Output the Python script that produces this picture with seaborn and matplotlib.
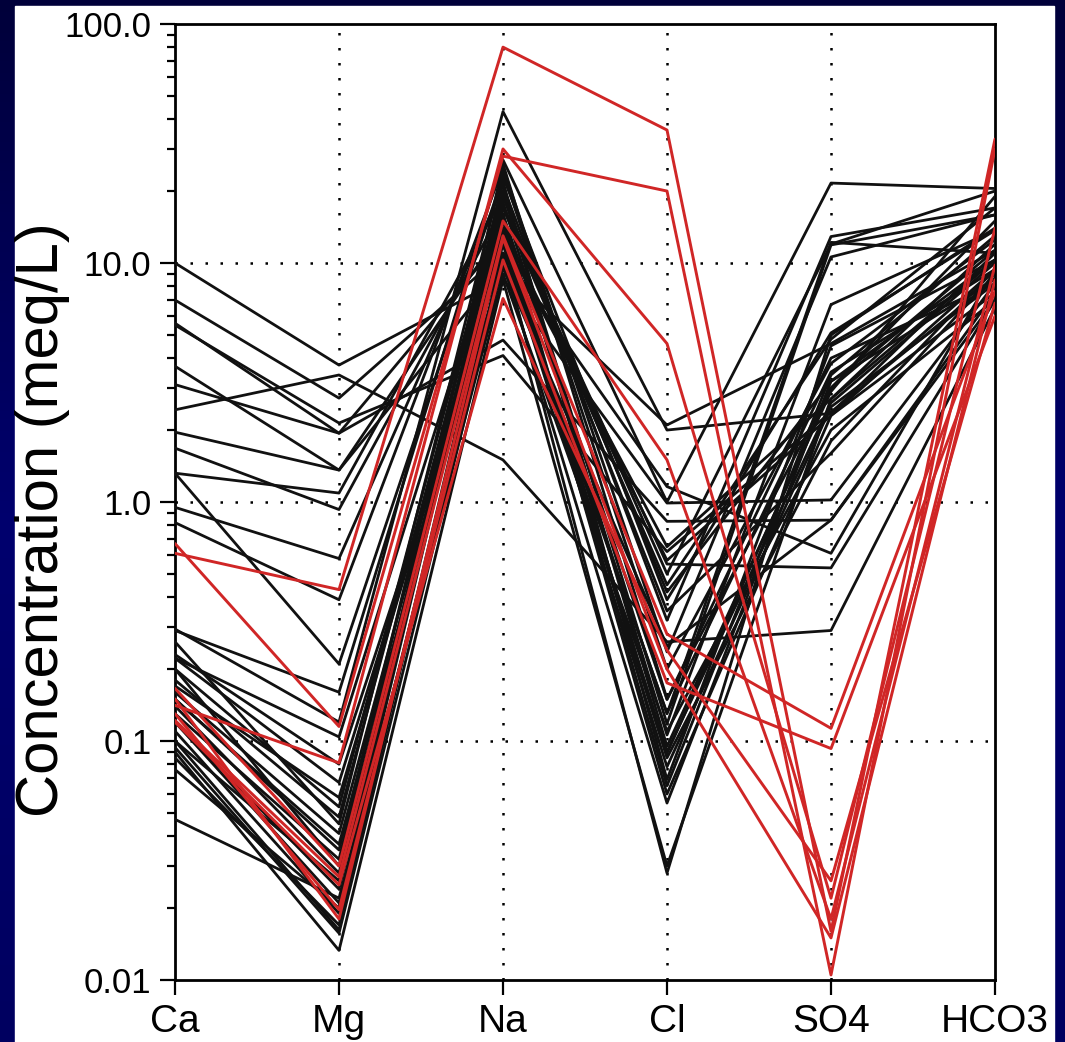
import numpy as np
import pandas as pd
import matplotlib
matplotlib.use("Agg")
import matplotlib.pyplot as plt
import seaborn as sns
from matplotlib.patches import Rectangle
from matplotlib.colors import LinearSegmentedColormap
from matplotlib.ticker import LogLocator, NullFormatter

ions = ["Ca", "Mg", "Na", "Cl", "SO4", "HCO3"]

# black samples (meq/L)
ca_black = [10.0, 7.0, 5.6, 5.5, 3.7, 3.1, 2.43, 1.96, 1.68, 1.32, 1.32, 0.95, 0.82,
            0.29, 0.294, 0.222, 0.222, 0.2, 0.18, 0.16, 0.149, 0.13, 0.12, 0.1, 0.094,
            0.09, 0.076, 0.047, 0.2, 0.26, 0.14, 0.11, 0.085, 0.17, 0.23, 0.15, 0.12, 0.1]
mg_black = [3.74, 2.72, 1.94, 2.14, 1.36, 1.94, 3.4, 1.36, 0.93, 1.09, 0.21, 0.58, 0.39,
            0.16, 0.12, 0.104, 0.067, 0.053, 0.048, 0.041, 0.037, 0.032, 0.024, 0.0162, 0.0157,
            0.0133, 0.02, 0.022, 0.03, 0.045, 0.028, 0.019, 0.017, 0.058, 0.08, 0.035, 0.021, 0.026]
na_black = [8.6, 11.0, 4.76, 4.1, 9.6, 12.8, 1.5, 14.0, 17.0, 19.0, 23.0, 21.0, 25.0,
            27.0, 43.0, 16.0, 11.0, 20.0, 18.0, 14.0, 12.0, 22.0, 15.0, 13.0, 10.0,
            8.5, 11.0, 9.0, 17.0, 24.0, 19.0, 26.0, 13.5, 12.0, 9.5, 20.0, 16.0, 17.5]
cl_black = [0.99, 1.16, 0.83, 0.62, 2.1, 0.65, 0.26, 0.57, 0.55, 0.42, 0.39, 0.32, 0.236,
            1.0, 2.0, 0.149, 0.131, 0.118, 0.106, 0.089, 0.078, 0.069, 0.06, 0.085, 0.055,
            0.03, 0.028, 0.11, 0.45, 0.2, 0.35, 0.15, 0.09, 0.13, 0.25, 0.095, 0.065, 0.5]
so4_black = [1.02, 0.61, 0.84, 2.38, 4.6, 2.7, 0.29, 2.3, 0.53, 3.2, 5.1, 12.9, 10.6,
             21.6, 2.35, 4.0, 3.5, 11.9, 6.7, 3.0, 2.5, 4.5, 2.3, 1.8, 3.2,
             2.7, 5.0, 2.0, 4.8, 3.8, 1.6, 3.0, 2.6, 12.2, 0.84, 2.9, 3.4, 12.0]
hco3_black = [8.2, 9.4, 7.5, 8.6, 11.3, 10.3, 6.5, 9.4, 7.0, 10.3, 13.7, 17.0, 15.9,
              20.5, 11.0, 8.2, 9.4, 15.9, 13.7, 11.3, 8.2, 10.3, 7.5, 9.4, 8.6,
              12.0, 14.0, 7.0, 17.0, 12.5, 9.0, 15.0, 10.0, 11.0, 7.0, 19.0, 13.0, 20.0]

# red samples (meq/L)
ca_red = [0.61, 0.67, 0.141, 0.166, 0.122, 0.13, 0.15, 0.12]
mg_red = [0.43, 0.115, 0.081, 0.03, 0.027, 0.0197, 0.018, 0.025]
na_red = [80.0, 28.0, 30.0, 15.0, 13.0, 10.3, 12.7, 7.1]
cl_red = [36.0, 20.0, 4.6, 1.5, 0.28, 0.175, 0.2, 0.24]
so4_red = [0.016, 0.0105, 0.022, 0.018, 0.113, 0.093, 0.015, 0.026]
hco3_red = [33.0, 30.0, 14.0, 9.8, 7.6, 6.0, 8.5, 6.8]


def long_table(cols, group):
    rows = []
    for i in range(len(cols[0])):
        for ion, col in zip(ions, cols):
            rows.append({"sample": f"{group}{i}", "ion": ion, "value": col[i], "group": group})
    return pd.DataFrame(rows)


df_black = long_table([ca_black, mg_black, na_black, cl_black, so4_black, hco3_black], "k")
df_red = long_table([ca_red, mg_red, na_red, cl_red, so4_red, hco3_red], "r")

sns.set_style("white")
plt.rcParams["font.family"] = ["Liberation Sans", "DejaVu Sans"]

W, H = 1065, 1042
fig = plt.figure(figsize=(W / 100, H / 100), dpi=100)

# background: navy gradient with white panel
bg = fig.add_axes([0, 0, 1, 1], zorder=-10)
grad = np.linspace(0, 1, 256).reshape(-1, 1)
cmap = LinearSegmentedColormap.from_list("bg", ["#00003a", "#00006e", "#000060"])
bg.imshow(grad, aspect="auto", cmap=cmap, extent=[0, 1, 0, 1], origin="upper")
bg.add_patch(Rectangle((15 / W, 0), (1054 - 15) / W, (H - 6) / H, color="white",
                       transform=bg.transAxes, zorder=2))
bg.set_xlim(0, 1)
bg.set_ylim(0, 1)
bg.set_axis_off()

ax = fig.add_axes([175 / W, 62 / H, 820 / W, 956 / H])
ax.set_facecolor("white")

sns.lineplot(data=df_black, x="ion", y="value", units="sample", estimator=None,
             color="#111111", lw=2.0, sort=False, ax=ax, zorder=3)
sns.lineplot(data=df_red, x="ion", y="value", units="sample", estimator=None,
             color="#d02626", lw=2.1, sort=False, ax=ax, zorder=4)

ax.set_yscale("log")
ax.set_ylim(0.01, 100)
ax.set_xlim(0, 5)

dots = (0, (1, 5))
for i in range(1, 5):
    ax.axvline(i, color="black", lw=1.8, ls=dots, zorder=1)
for yv in [0.1, 1, 10]:
    ax.axhline(yv, color="black", lw=1.8, ls=dots, zorder=1)

ax.set_yticks([0.01, 0.1, 1, 10, 100])
ax.set_yticklabels(["0.01", "0.1", "1.0", "10.0", "100.0"])
ax.yaxis.set_minor_locator(LogLocator(base=10, subs=np.arange(2, 10)))
ax.yaxis.set_minor_formatter(NullFormatter())
ax.set_xticks(range(6))
ax.set_xticklabels(ions)

ax.tick_params(which="major", direction="out", length=11, width=1.6, color="black",
               left=True, bottom=True, labelsize=25, pad=6, labelcolor="black")
ax.tick_params(which="minor", axis="y", direction="out", length=6, width=1.6,
               color="black", left=True)
for lab in ax.get_xticklabels():
    lab.set_fontsize(28)
ax.tick_params(axis="x", pad=6)

for sp in ax.spines.values():
    sp.set_visible(True)
    sp.set_color("black")
    sp.set_linewidth(2.0)

ax.set_xlabel("")
ax.set_ylabel("")
fig.text(15 / W, 1 - 520 / H, "Concentration (meq/L)", rotation=90, ha="left",
         va="center", fontsize=43, color="black")

fig.savefig("out.png", dpi=100)
